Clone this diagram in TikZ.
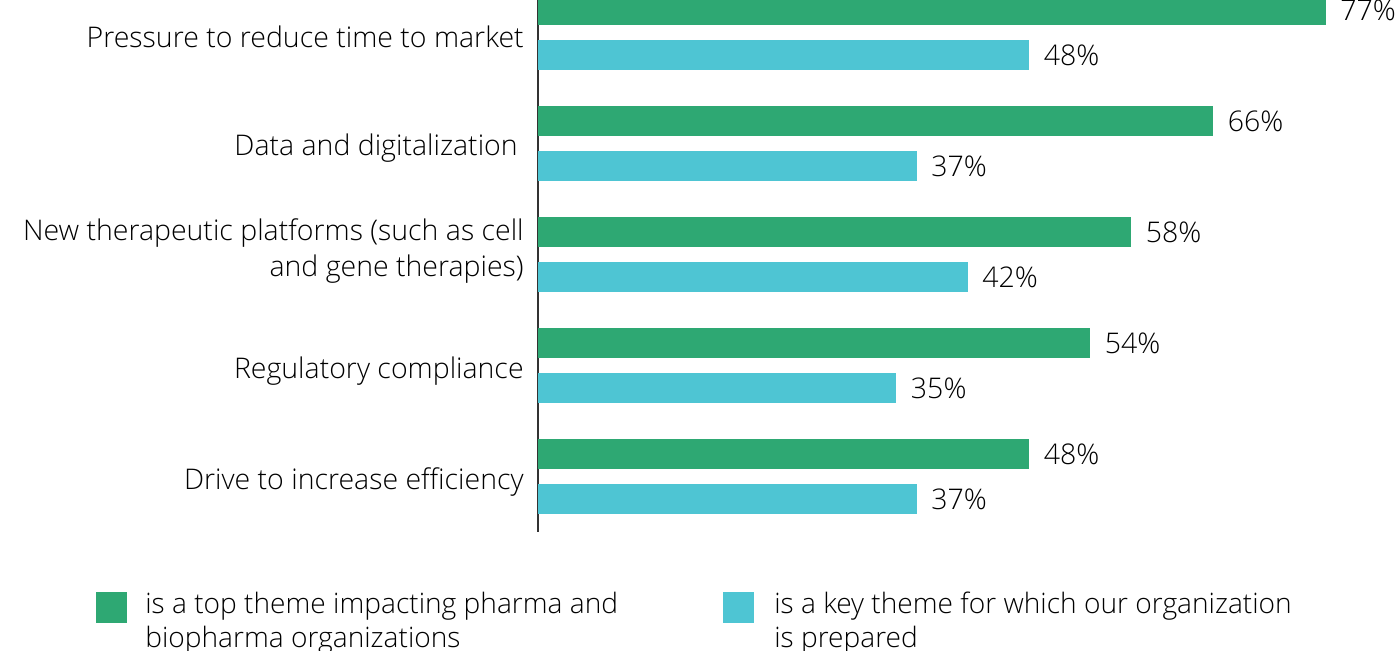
\documentclass[tikz,border=0pt]{standalone}
\usepackage{fontspec}
\setmainfont{Open Sans}[UprightFont={* Light}]
\usepackage{xcolor}
\definecolor{green}{HTML}{2EA873}
\definecolor{cyan}{HTML}{4EC5D3}
\definecolor{axis}{HTML}{333333}
\usetikzlibrary{positioning}

\begin{document}
\begin{tikzpicture}[x=0.02cm, y=-0.02cm,
  every node/.style={font=\fontsize{16.2pt}{21pt}\selectfont, text=black},
  bar/.style={inner sep=0pt, minimum height=0.6cm, anchor=west},
  topbar/.style={bar, fill=green},
  keybar/.style={bar, fill=cyan},
  pct/.style={inner sep=0pt, right=0.28cm of #1},
  theme/.style={anchor=east, align=right, inner sep=0pt},
  legtext/.style={anchor=north west, align=left, inner sep=0pt, font=\fontsize{16pt}{19.3pt}\selectfont}]
  \useasboundingbox (0,0) rectangle (1395,651);

  % axis
  \coordinate (axtop) at (538,0);
  \coordinate (axbot) at (538,532);
  \draw[axis, line width=1.1pt] (axtop) -- (axbot);

  % Pressure to reduce time to market
  \node[topbar, minimum width=15.75cm] (g1) at (538,10) {};
  \node[keybar, minimum width=9.82cm] (c1) at (538,55) {};
  \node[pct=g1] (pg1) {77\%};
  \node[pct=c1] (pc1) {48\%};
  \node[theme] (t1) at (524,37) {Pressure to reduce time to market};

  % Data and digitalization
  \node[topbar, minimum width=13.50cm] (g2) at (538,121) {};
  \node[keybar, minimum width=7.57cm] (c2) at (538,166) {};
  \node[pct=g2] (pg2) {66\%};
  \node[pct=c2] (pc2) {37\%};
  \node[theme] (t2) at (518,148) {Data and digitalization};

  % New therapeutic platforms
  \node[topbar, minimum width=11.86cm] (g3) at (538,232) {};
  \node[keybar, minimum width=8.59cm] (c3) at (538,277) {};
  \node[pct=g3] (pg3) {58\%};
  \node[pct=c3] (pc3) {42\%};
  \node[theme] (t3) at (524,251) {New therapeutic platforms (such as cell\\and gene therapies)};

  % Regulatory compliance
  \node[topbar, minimum width=11.04cm] (g4) at (538,343) {};
  \node[keybar, minimum width=7.16cm] (c4) at (538,388) {};
  \node[pct=g4] (pg4) {54\%};
  \node[pct=c4] (pc4) {35\%};
  \node[theme] (t4) at (524,371) {Regulatory compliance};

  % Drive to increase efficiency
  \node[topbar, minimum width=9.82cm] (g5) at (538,454) {};
  \node[keybar, minimum width=7.57cm] (c5) at (538,499) {};
  \node[pct=g5] (pg5) {48\%};
  \node[pct=c5] (pc5) {37\%};
  \node[theme] (t5) at (524,482) {Drive to increase efficiency};

  % legend
  \node[fill=green, inner sep=0pt, minimum size=0.62cm] (lg) at (111.5,607) {};
  \node[legtext] (lgt) at (145,592) {is a top theme impacting pharma and\\biopharma organizations};
  \node[fill=cyan, inner sep=0pt, minimum size=0.62cm] (lc) at (738.5,607) {};
  \node[legtext] (lct) at (774,592) {is a key theme for which our organization\\is prepared};
\end{tikzpicture}
\end{document}
